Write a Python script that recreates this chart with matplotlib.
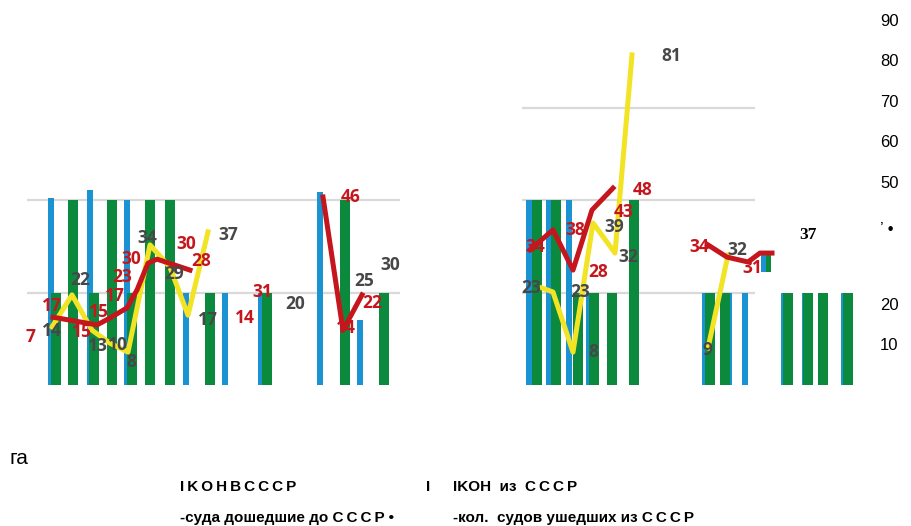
import matplotlib
matplotlib.use('Agg')
import matplotlib.pyplot as plt

# positions are in tens of pixels along the chart, values in chart units
blue_x = [5.1, 9.0, 12.7, 18.6, 22.5, 26.1, 32.0, 36.0, 52.9, 54.9, 56.9, 58.9, 70.5, 72.9, 74.5, 78.4, 80.5, 82.5, 84.4]
blue_h = [46.0, 48.0, 45.6, 22.6, 22.6, 22.6, 47.5, 16.0, 45.6, 45.6, 45.6, 22.6, 22.6, 22.6, 22.6, 22.6, 22.6, 22.6, 22.6]

green_x = [5.6, 7.3, 9.4, 11.2, 13.2, 15.0, 17.0, 21.0, 26.7, 34.5, 38.4, 53.7, 55.6, 57.8, 59.4, 61.2, 63.4, 71.0, 72.5, 78.8, 80.8, 82.3, 84.8]
green_h = [22.6, 45.6, 22.6, 45.6, 22.6, 45.6, 45.6, 22.6, 22.6, 45.6, 22.6, 45.6, 45.6, 22.6, 22.6, 22.6, 45.6, 22.6, 22.6, 22.6, 22.6, 22.6, 22.6]

# clipped fragment near the second right group
frag_x = [76.4, 76.9]
frag_bottom = [27.8, 27.8]
frag_h = [5.0, 5.0]

red_lines = [
    ([5.3, 9.7, 11.0, 12.7, 13.7, 14.8, 15.7, 19.0], [16.7, 14.8, 16.5, 19.0, 23.4, 30.0, 31.0, 28.3]),
    ([32.3, 34.3, 36.2], [46.3, 13.5, 22.2]),
    ([53.0, 55.3, 57.3, 59.2, 61.3], [33.3, 38.2, 28.3, 43.1, 48.5]),
    ([70.8, 72.7, 74.8, 76.0, 77.2], [34.5, 31.5, 30.3, 32.5, 32.5]),
]
yellow_lines = [
    ([5.2, 7.2, 9.2, 11.0, 12.8, 15.0, 17.0, 18.8, 20.8], [14.3, 22.2, 13.5, 10.3, 8.1, 34.5, 29.0, 17.2, 37.7]),
    ([54.2, 55.3, 57.3, 59.3, 61.5, 63.2], [23.9, 22.9, 8.1, 39.9, 32.5, 81.3]),
    ([70.8, 72.8], [9.1, 32.0]),
]

red_labels = [('7', 3.0, 11.8), ('17', 5.2, 19.4), ('15', 8.2, 13.0), ('15', 9.9, 18.0),
              ('17', 11.5, 21.8), ('23', 12.2, 26.6), ('30', 13.1, 31.0), ('30', 18.6, 34.8),
              ('28', 20.1, 30.6), ('14', 24.5, 16.5), ('31', 26.2, 22.9), ('46', 35.1, 46.3),
              ('14', 34.6, 14.0), ('22', 37.2, 20.2), ('34', 53.5, 34.0), ('38', 57.5, 38.2),
              ('28', 59.8, 27.8), ('43', 62.4, 42.6), ('48', 64.3, 48.0), ('34', 69.9, 34.0),
              ('31', 75.2, 28.8)]
dark_labels = [('14', 5.2, 13.3), ('22', 8.0, 25.9), ('13', 9.8, 9.6), ('10', 11.8, 9.9),
               ('8', 13.1, 5.7), ('34', 14.7, 36.2), ('29', 17.4, 27.3), ('17', 20.8, 16.0),
               ('37', 22.8, 37.0), ('20', 29.5, 20.0), ('25', 36.4, 25.6), ('30', 39.0, 29.6),
               ('23', 53.1, 23.9), ('23', 58.0, 22.9), ('8', 59.3, 8.1), ('39', 61.4, 38.9),
               ('32', 62.8, 31.5), ('81', 67.1, 81.0), ('32', 73.7, 33.2), ('9', 70.7, 8.6)]

tick_vals = [10, 20, 38.7, 50, 60, 70, 80, 90]
tick_text = ['10', '20', '\u2019 \u2022', '50', '60', '70', '80', '90']

grid_left = [45.6, 22.6]
grid_right = [68.2, 45.6, 22.6]

BLUE = '#1b93d3'
GREEN = '#0b8a3e'
RED = '#c4161c'
YELLOW = '#f2e324'
DARK = '#474747'

fig = plt.figure(figsize=(9.12, 5.26), dpi=100)
ax = fig.add_axes([0, 141 / 526, 880 / 912, 385 / 526])
ax.set_xlim(0, 88.0)
ax.set_ylim(0, 385 / 4.06)

for y in grid_left:
    ax.hlines(y, 2.7, 40.0, color='#d9d9d9', lw=1.6, zorder=0)
for y in grid_right:
    ax.hlines(y, 52.2, 75.5, color='#d9d9d9', lw=1.6, zorder=0)

ax.bar(blue_x, blue_h, width=0.55, color=BLUE, zorder=2)
ax.bar(green_x, green_h, width=0.95, color=GREEN, zorder=2)
ax.bar(frag_x, frag_h, bottom=frag_bottom, width=0.5, color=[BLUE, GREEN], zorder=2)

for xs, ys in yellow_lines:
    ax.plot(xs, ys, color=YELLOW, lw=3.6, zorder=3)
for xs, ys in red_lines:
    ax.plot(xs, ys, color=RED, lw=3.6, zorder=4)

lab = dict(fontsize=12.5, fontweight='bold', ha='center', va='center',
           family=['Open Sans', 'DejaVu Sans'], zorder=5)
for t, x, y in red_labels:
    ax.text(x, y, t, color=RED, **lab)
for t, x, y in dark_labels:
    ax.text(x, y, t, color=DARK, **lab)
ax.text(80.8, 37.0, '37', color='black', fontsize=12.5, fontweight='bold', ha='center', va='center',
        family=['Liberation Serif', 'DejaVu Serif'], zorder=5)

ax.yaxis.tick_right()
ax.set_yticks(tick_vals)
ax.set_yticklabels(tick_text, family=['Liberation Sans Narrow', 'Liberation Sans'], fontsize=12)
ax.tick_params(axis='y', length=0, pad=0)
ax.set_xticks([])
for s in ax.spines.values():
    s.set_visible(False)

sp = '\u2009'
fig.text(10 / 912, 1 - 458 / 526, 'га', fontsize=15, va='center', family=['Liberation Sans', 'DejaVu Sans'])
leg = dict(fontsize=11, fontweight='bold', va='center', family=['Liberation Sans', 'DejaVu Sans'])
fig.text(180 / 912, 1 - 487 / 526, sp.join('IKOHBCCCP'), **leg)
fig.text(426 / 912, 1 - 487 / 526, 'I', **leg)
fig.text(453 / 912, 1 - 487 / 526, 'IKOH  из  ' + sp.join('CCCP'), **leg)
fig.text(180 / 912, 1 - 518 / 526, '-суда дошедшие до ' + sp.join('CCCP') + ' •', **leg)
fig.text(453 / 912, 1 - 518 / 526, '-кол.  судов ушедших из ' + sp.join('CCCP'), **leg)

fig.savefig('out.png', dpi=100)
